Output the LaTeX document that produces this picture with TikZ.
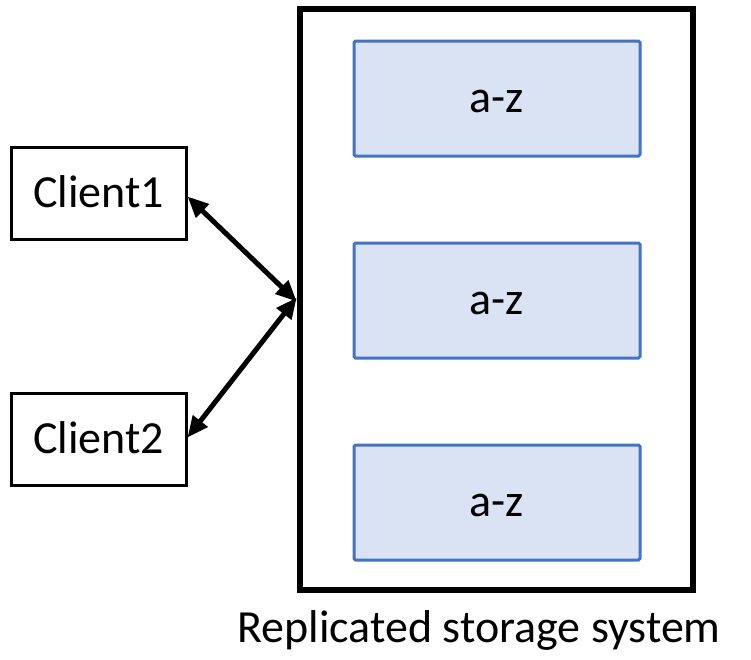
\documentclass[tikz,border=0pt]{standalone}
\usepackage{fontspec}
\setmainfont{Carlito}
\usetikzlibrary{arrows.meta}
\definecolor{replborder}{HTML}{4472C4}
\definecolor{replfill}{HTML}{DAE3F3}
\tikzset{
  lbl/.style={font=\fontsize{46}{55}\selectfont, text height=28pt, text depth=0pt, inner sep=0pt},
  clientbox/.style={lbl, draw=black, line width=3pt, minimum width=174.5pt, minimum height=92pt},
  storebox/.style={draw=black, line width=6.5pt, minimum width=393pt, minimum height=581pt, inner sep=0pt},
  replbox/.style={lbl, draw=replborder, fill=replfill, line width=3pt, rounded corners=1.5pt, minimum width=286pt, minimum height=115pt},
  link/.style={line width=5pt, {Triangle[length=21pt,width=18pt]}-{Triangle[length=21pt,width=18pt]}}
}
\begin{document}
\begin{tikzpicture}[x=1pt,y=-1pt]
\useasboundingbox (0,0) rectangle (751,659);
\node[storebox] (store) at (496.5,299.5) {};
\node[replbox] (r1) at (497,98.5) {a-z};
\node[replbox] (r2) at (497,300.5) {a-z};
\node[replbox] (r3) at (497,502.5) {a-z};
\node[clientbox] (c1) at (98.75,193.5) {Client1};
\node[clientbox] (c2) at (98.75,439.5) {Client2};
\coordinate (hubA) at ([yshift=-2pt]store.west);
\coordinate (hubB) at ([yshift=2pt]store.west);
\draw[link] ([yshift=-3pt]c1.east) -- (hubA);
\draw[link] (hubB) -- ([yshift=2pt]c2.east);
\node[lbl, anchor=base, text height=, text depth=] (cap) at (479,642) {Replicated storage system};
\end{tikzpicture}
\end{document}
